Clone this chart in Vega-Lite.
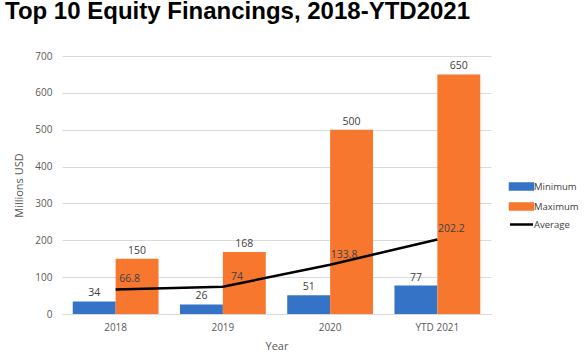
{
  "$schema": "https://vega.github.io/schema/vega-lite/v6.json",
  "autosize": "none",
  "width": 429,
  "height": 258,
  "padding": {"left": 62, "top": 56, "right": 94, "bottom": 44},
  "background": "white",
  "title": {"text": "Top 10 Equity Financings, 2018-YTD2021", "anchor": "start", "frame": "group", "dx": -57, "offset": 8, "baseline": "alphabetic", "font": "Liberation Sans", "fontSize": 24, "fontWeight": "bold", "color": "black"},
  "config": {"view": {"stroke": null}, "title": {"font": "Liberation Sans"}},
  "data": {"values": [
    {"year": "2018", "series": "Minimum", "value": 34},
    {"year": "2018", "series": "Maximum", "value": 150},
    {"year": "2018", "series": "Average", "value": 66.8},
    {"year": "2019", "series": "Minimum", "value": 26},
    {"year": "2019", "series": "Maximum", "value": 168},
    {"year": "2019", "series": "Average", "value": 74},
    {"year": "2020", "series": "Minimum", "value": 51},
    {"year": "2020", "series": "Maximum", "value": 500},
    {"year": "2020", "series": "Average", "value": 133.8},
    {"year": "YTD 2021", "series": "Minimum", "value": 77},
    {"year": "YTD 2021", "series": "Maximum", "value": 650},
    {"year": "YTD 2021", "series": "Average", "value": 202.2}
  ]},
  "encoding": {
    "x": {"field": "year", "type": "nominal", "sort": null,
      "scale": {"paddingInner": 0.2, "paddingOuter": 0.1},
      "axis": {"title": "Year", "labelAngle": 0, "ticks": false, "domainColor": "#d9d9d9", "labelFont": "Open Sans", "labelFontSize": 10, "labelColor": "#595959", "labelPadding": 8, "titleFont": "Open Sans", "titleFontSize": 11, "titleFontWeight": "normal", "titleColor": "#595959", "titlePadding": 8}},
    "y": {"field": "value", "type": "quantitative",
      "scale": {"domain": [0, 700]},
      "axis": {"title": "Millions USD", "values": [0, 100, 200, 300, 400, 500, 600, 700], "domain": false, "ticks": false, "gridColor": "#d9d9d9", "labelFont": "Open Sans", "labelFontSize": 10, "labelColor": "#595959", "labelPadding": 10, "titleFont": "Open Sans", "titleFontSize": 11, "titleFontWeight": "normal", "titleColor": "#595959", "titlePadding": 10}}
  },
  "layer": [
    {
      "transform": [{"filter": "datum.series !== 'Average'"}],
      "mark": {"type": "bar"},
      "encoding": {
        "xOffset": {"field": "series", "type": "nominal", "scale": {"domain": ["Minimum", "Maximum"], "paddingInner": 0}},
        "color": {"field": "series", "type": "nominal",
          "scale": {"domain": ["Minimum", "Maximum", "Average"], "range": ["#3473C6", "#F7772F", "#000000"]},
          "legend": {"title": null, "orient": "none", "legendX": 453, "legendY": 124, "labelFont": "Open Sans", "labelFontSize": 9.5, "labelColor": "#404040", "rowPadding": 3, "symbolSize": 100, "labelOffset": 6,
            "encode": {"symbols": {"update": {
              "shape": {"signal": "datum.value === 'Average' ? 'M-2.3,0H2.3' : 'M-2.3,-0.6H2.3V0.6H-2.3Z'"},
              "fill": {"signal": "datum.value === 'Average' ? 'transparent' : scale('color', datum.value)"},
              "stroke": {"signal": "datum.value === 'Average' ? '#000000' : 'transparent'"},
              "strokeWidth": {"value": 2.5},
              "fillOpacity": {"value": 1}
            }}}}}
      }
    },
    {
      "transform": [{"filter": "datum.series !== 'Average'"}],
      "mark": {"type": "text", "baseline": "bottom", "dy": -3, "fontSize": 10.5, "color": "#404040", "font": "Open Sans"},
      "encoding": {
        "xOffset": {"field": "series", "type": "nominal", "scale": {"domain": ["Minimum", "Maximum"], "paddingInner": 0}},
        "text": {"field": "value", "type": "nominal"}
      }
    },
    {
      "transform": [{"filter": "datum.series === 'Average'"}],
      "mark": {"type": "line", "strokeWidth": 2.5, "color": "#000000"},
      "encoding": {"color": {"field": "series", "type": "nominal"}}
    },
    {
      "transform": [{"filter": "datum.series === 'Average'"}],
      "mark": {"type": "text", "baseline": "bottom", "dx": 14, "dy": -5, "fontSize": 10.5, "color": "#404040", "font": "Open Sans"},
      "encoding": {"text": {"field": "value", "type": "nominal"}}
    }
  ]
}
